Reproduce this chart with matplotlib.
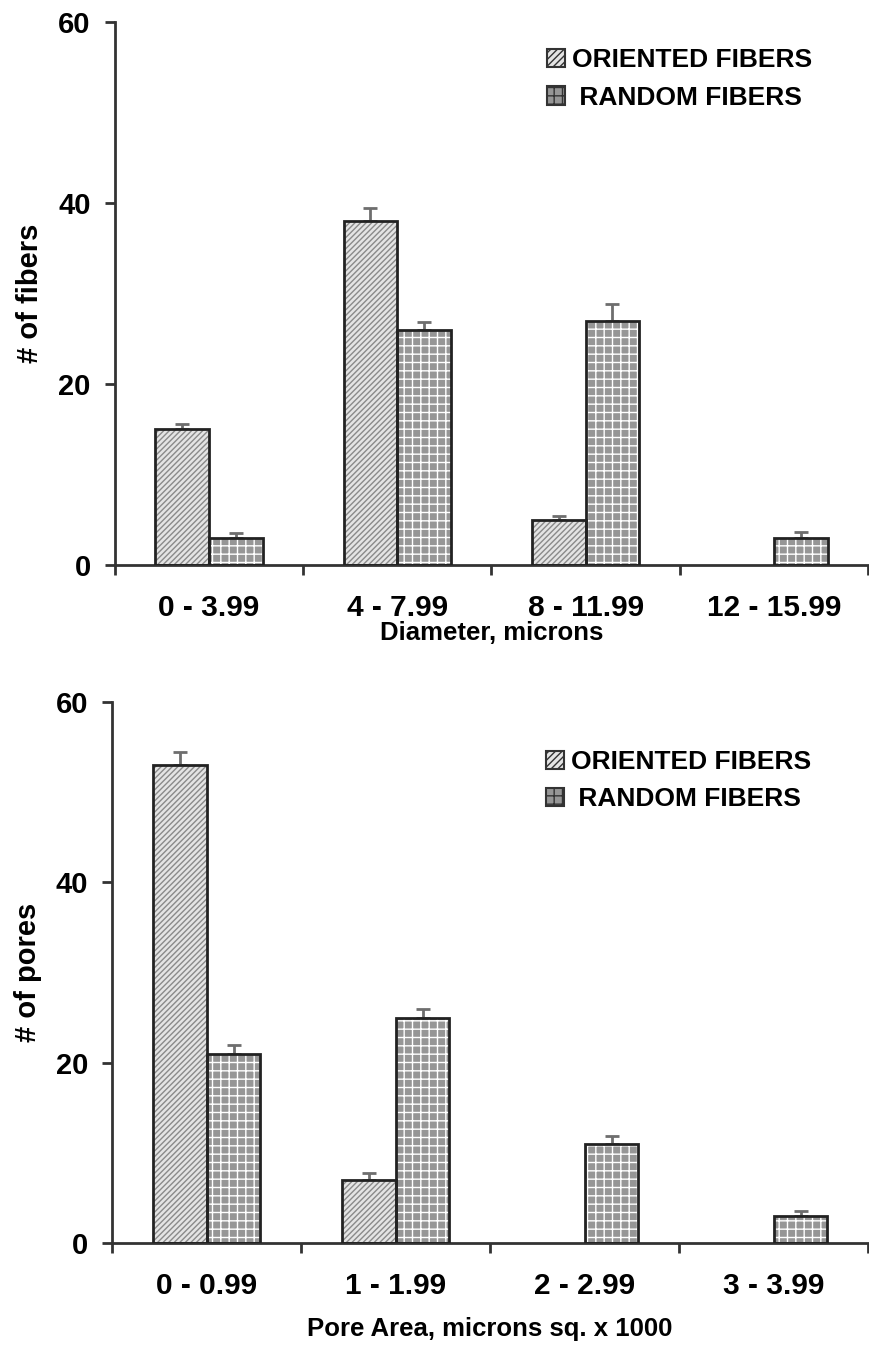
import numpy as np
import matplotlib.pyplot as plt
from matplotlib.patches import Patch

plt.rcParams['font.family'] = ['Liberation Sans', 'DejaVu Sans']
plt.rcParams['font.weight'] = 'bold'
plt.rcParams['hatch.linewidth'] = 1.0

# Données
diam_labels = ["0 - 3.99", "4 - 7.99", "8 - 11.99", "12 - 15.99"]
diam_oriented = [15, 38, 5, 0]
diam_oriented_err = [0.6, 1.4, 0.4, 0]
diam_random = [3, 26, 27, 3]
diam_random_err = [0.5, 0.8, 1.8, 0.6]

pore_labels = ["0 - 0.99", "1 - 1.99", "2 - 2.99", "3 - 3.99"]
pore_oriented = [53, 7, 0, 0]
pore_oriented_err = [1.4, 0.8, 0, 0]
pore_random = [21, 25, 11, 3]
pore_random_err = [1.0, 0.9, 0.9, 0.5]

W = 0.285
ORI_FACE = "#e4e4e4"
RND_FACE = "#969696"


def draw_series(ax, xpos, vals, errs, face, hatch_col, hatch):
    vals = np.array(vals, dtype=float)
    errs = np.array(errs, dtype=float)
    m = vals > 0
    ax.bar(xpos[m], vals[m], W, color=face, edgecolor=hatch_col, hatch=hatch, linewidth=0, zorder=2)
    ax.bar(xpos[m], vals[m], W, fill=False, edgecolor="#222222", linewidth=2, zorder=3)
    # barres d'erreur (vers le haut seulement)
    ax.errorbar(xpos[m], vals[m], yerr=[np.zeros(m.sum()), errs[m]],
                fmt="none", ecolor="#6e6e6e", elinewidth=2, capsize=5, capthick=2, zorder=1)


def draw_panel(ax, labels, ori, ori_err, rnd, rnd_err, xlabel, ylabel, xlabelpad, leg_y):
    x = np.arange(len(labels))
    draw_series(ax, x - W / 2, ori, ori_err, ORI_FACE, "#8a8a8a", "//////")
    draw_series(ax, x + W / 2, rnd, rnd_err, RND_FACE, "white", "++")

    ax.set_xlim(-0.5, len(labels) - 0.5)
    ax.set_ylim(0, 60)
    ax.set_yticks([0, 20, 40, 60])
    ax.set_xticks(x)
    ax.set_xticklabels(labels, fontsize=21.5, fontweight="bold")
    ax.tick_params(axis="x", length=0, pad=21)
    ax.set_xticks(np.arange(len(labels) + 1) - 0.5, minor=True)
    ax.tick_params(axis="x", which="minor", length=7, width=2, direction="out", color="#333333")
    ax.tick_params(axis="y", length=7.2, width=2, labelsize=21, color="#333333", pad=10)
    for lab in ax.get_yticklabels():
        lab.set_fontweight("bold")
    for s in ["top", "right"]:
        ax.spines[s].set_visible(False)
    for s in ["left", "bottom"]:
        ax.spines[s].set_linewidth(2)
        ax.spines[s].set_color("#333333")
    ax.set_xlabel(xlabel, fontsize=18.5, fontweight="bold", labelpad=xlabelpad)
    ax.set_ylabel(ylabel, fontsize=21, fontweight="bold", labelpad=10)

    handles = [Patch(facecolor=ORI_FACE, edgecolor="#333333", hatch="/////", linewidth=1.5),
               Patch(facecolor=RND_FACE, edgecolor="#333333", hatch="++", linewidth=1.5)]
    ax.legend(handles, ["ORIENTED FIBERS", " RANDOM FIBERS"], loc="upper left",
              bbox_to_anchor=(0.542, leg_y), frameon=False,
              handlelength=0.7, handleheight=0.7, handletextpad=0.25, labelspacing=0.5,
              prop={"weight": "bold", "size": 19})


fig = plt.figure(figsize=(8.69, 13.57), dpi=100)
ax1 = fig.add_axes([0.132, 0.5836, 0.867, 0.4002])
ax2 = fig.add_axes([0.129, 0.0840, 0.870, 0.3987])

draw_panel(ax1, diam_labels, diam_oriented, diam_oriented_err, diam_random, diam_random_err,
           "Diameter, microns", "# of fibers", -1, 0.995)
draw_panel(ax2, pore_labels, pore_oriented, pore_oriented_err, pore_random, pore_random_err,
           "Pore Area, microns sq. x 1000", "# of pores", 12, 0.955)

fig.savefig("out.png", dpi=100)
